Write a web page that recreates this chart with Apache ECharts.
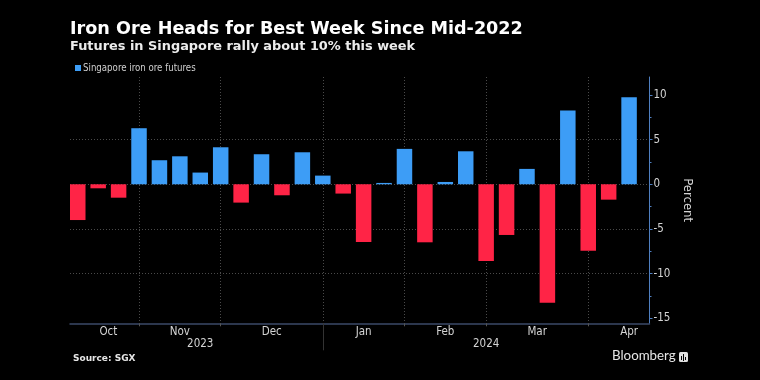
<!DOCTYPE html>
<html>
<head>
<meta charset="utf-8">
<style>
  html, body { margin: 0; padding: 0; background: #000; }
  #chart { width: 760px; height: 380px; }
</style>
<script src="https://cdn.jsdelivr.net/npm/echarts@6/dist/echarts.min.js"></script>
</head>
<body>
<div id="chart"></div>
<script>
// ---- data ----
const weeks = [
  '2023-10-13','2023-10-20','2023-10-27',
  '2023-11-03','2023-11-10','2023-11-17','2023-11-24',
  '2023-12-01','2023-12-08','2023-12-15','2023-12-22','2023-12-29',
  '2024-01-05','2024-01-12','2024-01-19','2024-01-26',
  '2024-02-02','2024-02-09','2024-02-16','2024-02-23',
  '2024-03-01','2024-03-08','2024-03-15','2024-03-22','2024-03-29',
  '2024-04-05','2024-04-12','2024-04-19'
];
const weeklyChange = [
  -4.0, -0.45, -1.5,
  6.27, 2.69, 3.13, 1.31,
  4.14, -2.05, 3.36, -1.23, 3.58,
  0.97, -1.04, -6.46, 0.15,
  3.96, -6.49, 0.26, 3.69,
  -8.58, -5.67, 1.72, -13.25, 8.25,
  -7.43, -1.72, 9.74
];
const monthNames = ['Jan','Feb','Mar','Apr','May','Jun','Jul','Aug','Sep','Oct','Nov','Dec'];
const yTickValues = [-15, -10, -5, 0, 5, 10];
const yMinorTickValues = [-12.5, -7.5, -2.5, 2.5, 7.5];
const seriesName = 'Singapore iron ore futures';

// ---- derived axis positions (week index units) ----
const DAY = 86400000;
const t0 = Date.parse(weeks[0] + 'T00:00:00Z');
const weekDate = i => new Date(t0 + i * 7 * DAY);
const nWeeks = weeks.length;

const monthStarts = [];
const yearStarts = [];
for (let i = 1; i < nWeeks; i++) {
  const a = weekDate(i - 1), b = weekDate(i);
  if (a.getUTCMonth() !== b.getUTCMonth()) monthStarts.push(i);
  if (a.getUTCFullYear() !== b.getUTCFullYear()) yearStarts.push(i);
}
let nextMonthStart = nWeeks - 1;
while (weekDate(nextMonthStart).getUTCMonth() === weekDate(nWeeks - 1).getUTCMonth()) nextMonthStart++;

const monthBounds = [0].concat(monthStarts, [nextMonthStart]);
const monthLabelPos = [];
const monthLabelMap = {};
for (let k = 0; k < monthBounds.length - 1; k++) {
  const p = (monthBounds[k] + monthBounds[k + 1]) / 2;
  monthLabelPos.push(p);
  monthLabelMap[p] = monthNames[weekDate(monthBounds[k]).getUTCMonth()];
}
const yearBounds = [0].concat(yearStarts, [nWeeks]);
const yearLabelPos = [];
const yearLabelMap = {};
for (let k = 0; k < yearBounds.length - 1; k++) {
  const p = (yearBounds[k] + yearBounds[k + 1]) / 2;
  yearLabelPos.push(p);
  yearLabelMap[p] = String(weekDate(yearBounds[k]).getUTCFullYear());
}

const BLUE = '#3d9df6';
const RED = '#ff2446';
const labelFont = '"Liberation Sans Narrow", "DejaVu Sans Condensed", sans-serif';

const barData = weeklyChange.map((v, i) => ({
  value: [i, v],
  itemStyle: { color: v >= 0 ? BLUE : RED }
}));

const chart = echarts.init(document.getElementById('chart'), null, { renderer: 'canvas' });
chart.setOption({
  backgroundColor: '#000',
  animation: false,
  title: [
    { text: 'Iron Ore Heads for Best Week Since Mid-2022', left: 70, top: 20.5, padding: 0,
      textStyle: { color: '#ffffff', fontFamily: 'DejaVu Sans', fontWeight: 'bold', fontSize: 17.6 } },
    { text: 'Futures in Singapore rally about 10% this week', left: 70, top: 40, padding: 0,
      textStyle: { color: '#ececec', fontFamily: 'DejaVu Sans', fontWeight: 'bold', fontSize: 12.9 } },
    { text: 'Source: SGX', left: 73, top: 354, padding: 0,
      textStyle: { color: '#e6e6e6', fontFamily: 'DejaVu Sans', fontWeight: 'bold', fontSize: 9 } },
    { text: 'Bloomberg', left: 612, top: 349, padding: 0,
      textStyle: { color: '#e6e6e6', fontFamily: 'Lato', fontWeight: 'normal', fontSize: 13.3 } }
  ],
  legend: {
    data: [seriesName], left: 75, top: 63, padding: 0, icon: 'rect', itemWidth: 6, itemHeight: 6, itemGap: 5,
    textStyle: { color: '#cfcfcf', fontFamily: labelFont, fontSize: 9.6, padding: [0, 0, 0, -3] }
  },
  grid: { left: 70, right: 110.5, top: 77, bottom: 56.7, containLabel: false },
  xAxis: [
    {
      type: 'value', min: -0.38, max: nWeeks,
      axisLine: { show: true, onZero: false, lineStyle: { color: '#3b4a68', width: 1.5 } },
      axisTick: { show: true, customValues: monthStarts, length: 3, lineStyle: { color: '#555' } },
      splitLine: { show: true, lineStyle: { color: '#4a4a4a', type: [1, 2], width: 1 } },
      axisLabel: { customValues: monthLabelPos, formatter: v => monthLabelMap[v] || '',
        color: '#d4d4d4', fontFamily: labelFont, fontSize: 11.5, margin: 3 }
    },
    {
      type: 'value', min: -0.38, max: nWeeks, position: 'bottom',
      axisLine: { show: false, onZero: false },
      axisTick: { show: true, customValues: yearStarts, length: 27, lineStyle: { color: '#333' } },
      splitLine: { show: false },
      axisLabel: { customValues: yearLabelPos, formatter: v => yearLabelMap[v] || '',
        color: '#d4d4d4', fontFamily: labelFont, fontSize: 11.5, margin: 15 }
    }
  ],
  yAxis: [
    {
      type: 'value', position: 'right', min: -15.55, max: 12,
      name: 'Percent', nameLocation: 'middle', nameRotate: -90, nameGap: 24,
      nameTextStyle: { color: '#d4d4d4', fontFamily: labelFont, fontSize: 13 },
      axisLine: { show: true, onZero: false, lineStyle: { color: '#4f7fc0', width: 1 } },
      axisTick: { show: true, customValues: yTickValues, length: 3, lineStyle: { color: '#4f7fc0' } },
      splitLine: { show: true, showMinLine: false, showMaxLine: false,
        lineStyle: { color: '#4a4a4a', type: [1, 2], width: 1 } },
      axisLabel: { customValues: yTickValues, color: '#d4d4d4', fontFamily: labelFont, fontSize: 11.5, margin: 4 }
    },
    {
      type: 'value', position: 'right', min: -15.55, max: 12,
      axisLine: { show: false, onZero: false },
      axisTick: { show: true, customValues: yMinorTickValues, length: 2, lineStyle: { color: '#4f7fc0' } },
      splitLine: { show: false },
      axisLabel: { show: false }
    }
  ],
  series: [
    {
      name: seriesName, type: 'bar', xAxisIndex: 0, yAxisIndex: 0,
      barWidth: 15.5, itemStyle: { color: BLUE },
      data: barData
    }
  ],
  graphic: [
    { type: 'group', left: 679, top: 352, children: [
      { type: 'rect', shape: { x: 0, y: 0, width: 9, height: 10, r: 1.5 }, style: { fill: '#e0e0e0' } },
      { type: 'rect', shape: { x: 2, y: 4, width: 1, height: 4 }, style: { fill: '#000' } },
      { type: 'rect', shape: { x: 4, y: 2, width: 1, height: 7 }, style: { fill: '#000' } },
      { type: 'rect', shape: { x: 6, y: 5, width: 1, height: 3 }, style: { fill: '#000' } }
    ]}
  ]
});
</script>
</body>
</html>
